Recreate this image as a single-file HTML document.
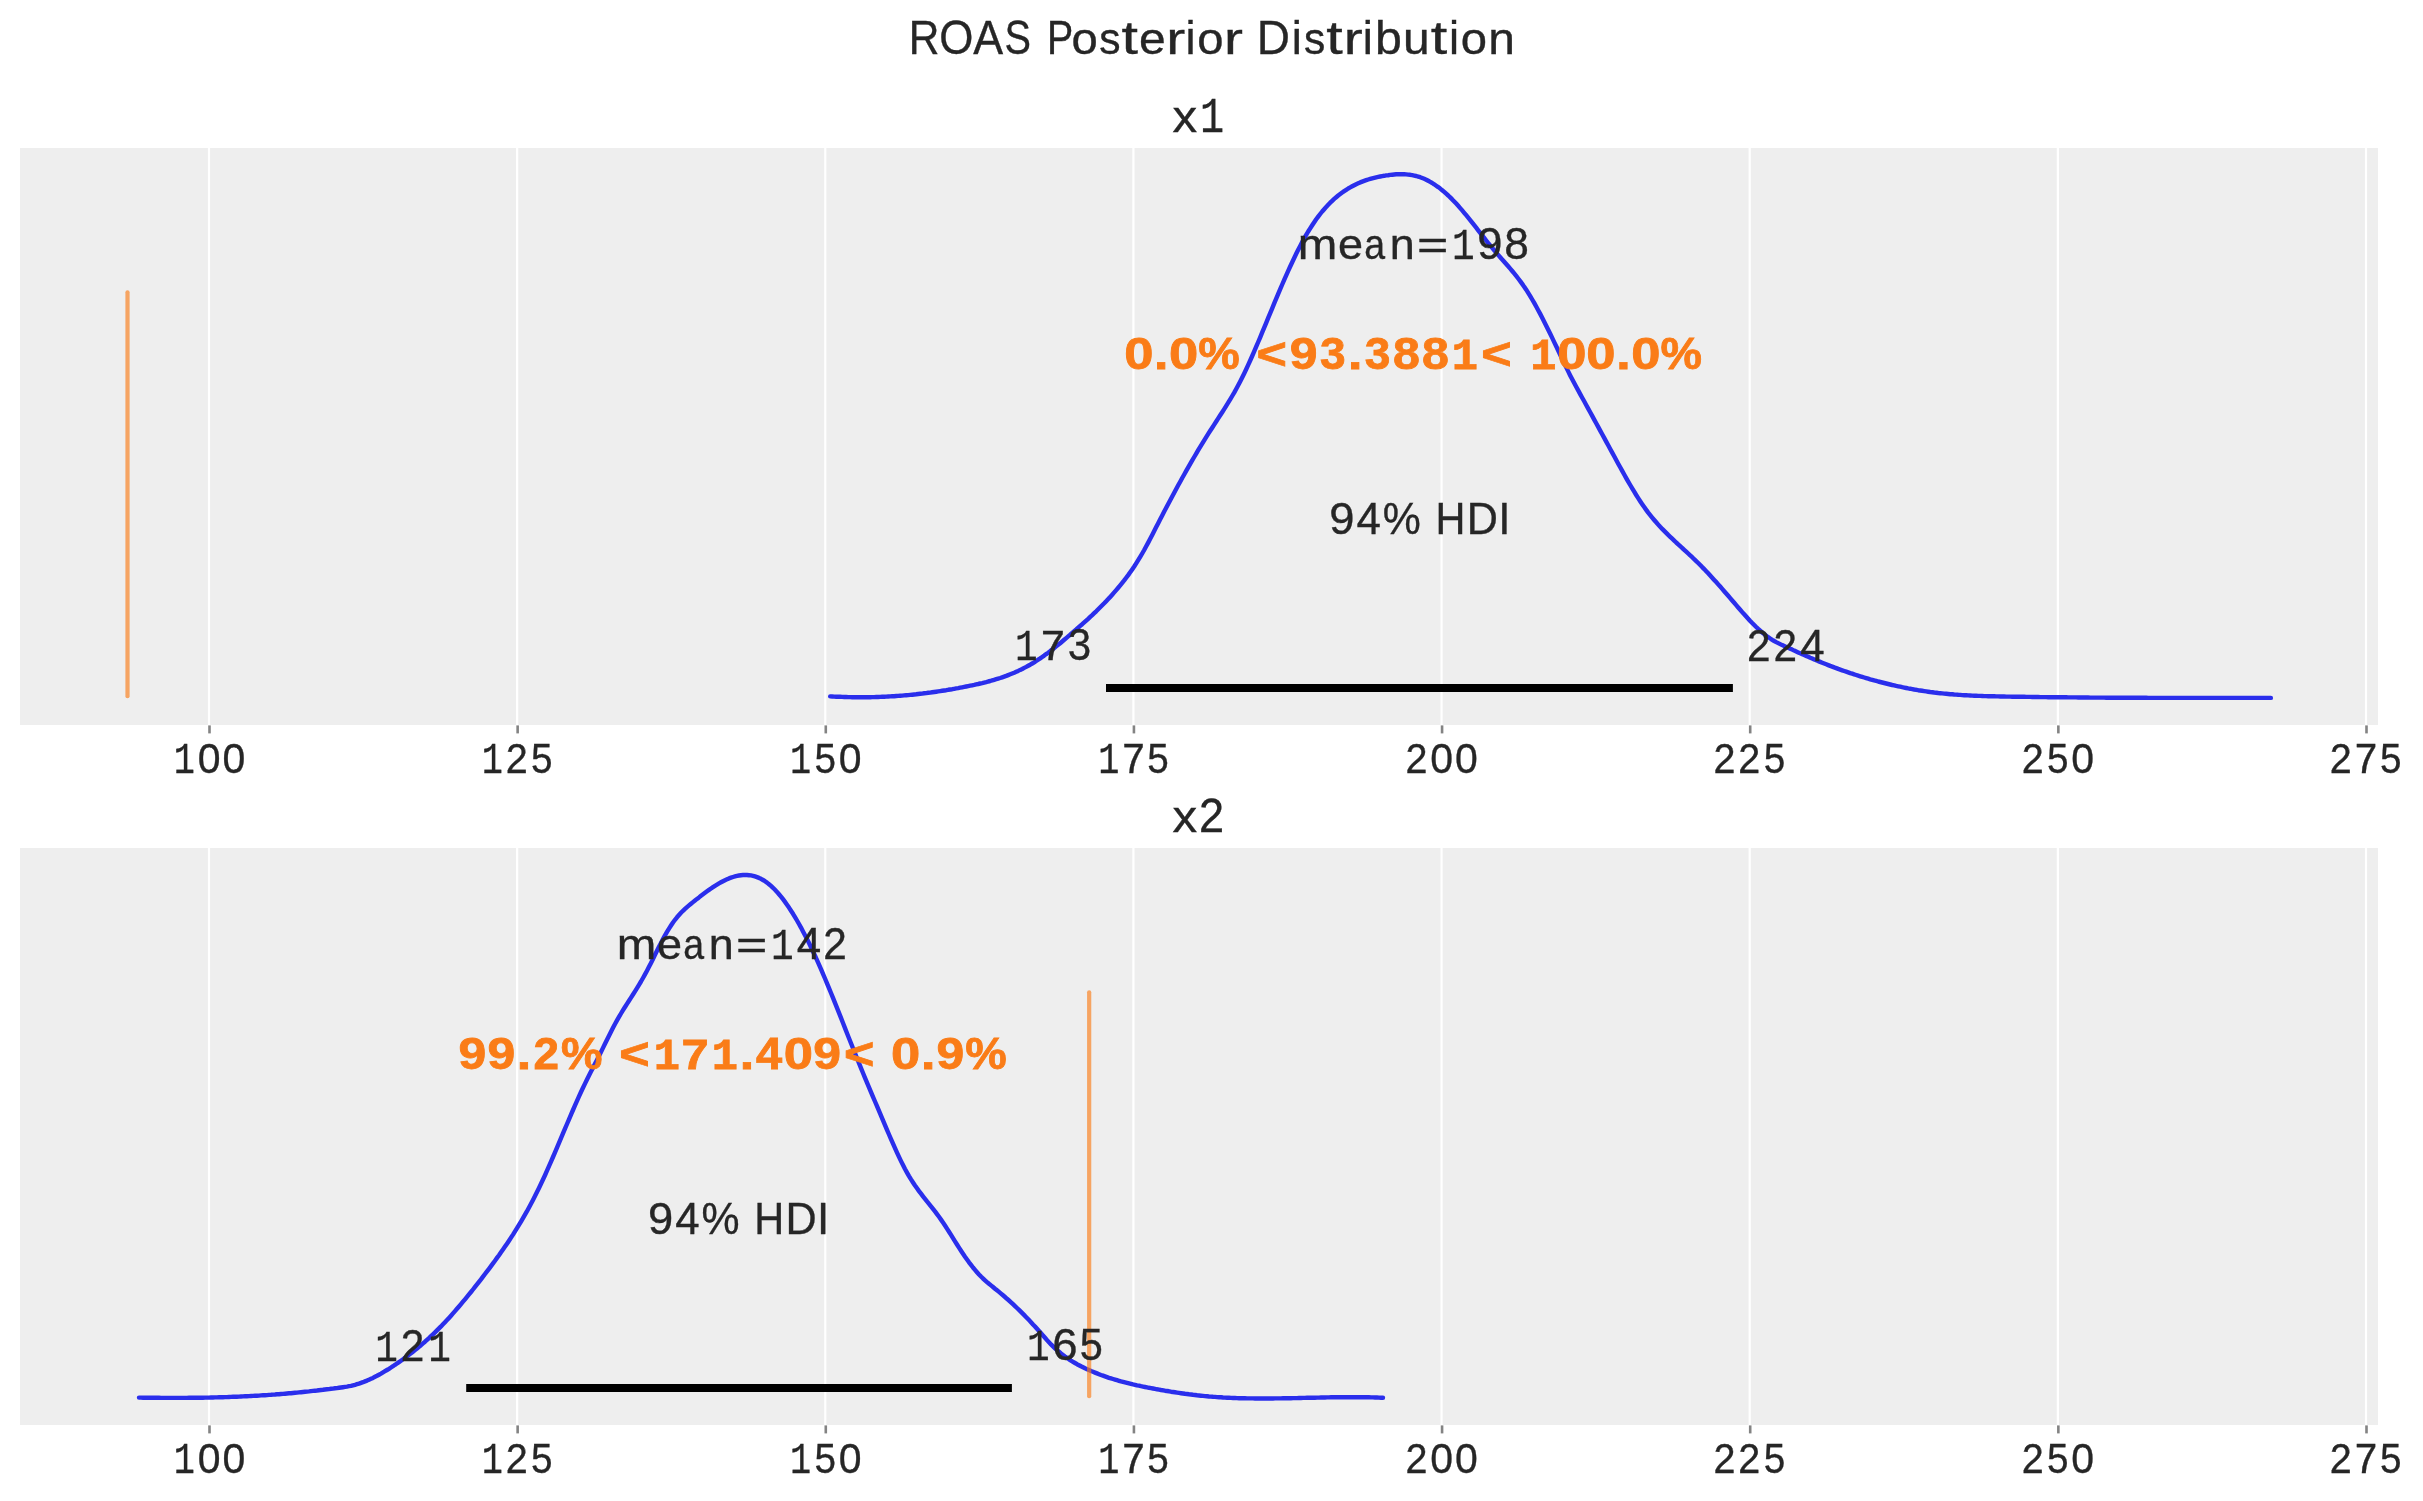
<!DOCTYPE html>
<html><head><meta charset="utf-8"><title>ROAS Posterior Distribution</title>
<style>
html,body{margin:0;padding:0;background:#ffffff;}
body{width:2423px;height:1501px;overflow:hidden;}
svg{display:block;will-change:transform;}
text{font-family:"Liberation Sans", sans-serif;font-kerning:none;white-space:pre;}
</style></head><body>
<svg width="2423" height="1501" viewBox="0 0 2423 1501">
<rect x="0" y="0" width="2423" height="1501" fill="#ffffff"/>
<text x="908.81 939.22 973.27 1004.54 1031.62 1046.88 1071.43 1099.37 1121.59 1139.14 1166.32 1185.49 1197.15 1224.13 1242.14 1256.86 1291.64 1304.06 1326.28 1343.67 1362.83 1374.95 1402.90 1430.70 1448.98 1460.65 1488.22" y="54.00" font-size="47.09" font-weight="normal" fill="#262626" stroke="#262626" stroke-width="0.35"><tspan font-size="48.03" textLength="30.69" lengthAdjust="spacingAndGlyphs">R</tspan><tspan font-size="48.03" textLength="34.17" lengthAdjust="spacingAndGlyphs">O</tspan><tspan font-size="48.03" textLength="29.86" lengthAdjust="spacingAndGlyphs">A</tspan><tspan font-size="48.03" textLength="26.42" lengthAdjust="spacingAndGlyphs">S</tspan> <tspan font-size="48.03" textLength="26.21" lengthAdjust="spacingAndGlyphs">P</tspan><tspan font-size="44.73" textLength="26.27" lengthAdjust="spacingAndGlyphs">o</tspan><tspan font-size="44.73" textLength="21.30" lengthAdjust="spacingAndGlyphs">s</tspan><tspan textLength="16.50" lengthAdjust="spacingAndGlyphs">t</tspan><tspan font-size="44.73" textLength="26.70" lengthAdjust="spacingAndGlyphs">e</tspan><tspan font-size="44.73" textLength="18.96" lengthAdjust="spacingAndGlyphs">r</tspan><tspan textLength="10.09" lengthAdjust="spacingAndGlyphs">i</tspan><tspan font-size="44.73" textLength="26.27" lengthAdjust="spacingAndGlyphs">o</tspan><tspan font-size="44.73" textLength="18.96" lengthAdjust="spacingAndGlyphs">r</tspan> <tspan font-size="48.03" textLength="33.20" lengthAdjust="spacingAndGlyphs">D</tspan><tspan textLength="10.09" lengthAdjust="spacingAndGlyphs">i</tspan><tspan font-size="44.73" textLength="21.30" lengthAdjust="spacingAndGlyphs">s</tspan><tspan textLength="16.50" lengthAdjust="spacingAndGlyphs">t</tspan><tspan font-size="44.73" textLength="18.96" lengthAdjust="spacingAndGlyphs">r</tspan><tspan textLength="10.09" lengthAdjust="spacingAndGlyphs">i</tspan><tspan textLength="26.89" lengthAdjust="spacingAndGlyphs">b</tspan><tspan font-size="44.73" textLength="26.65" lengthAdjust="spacingAndGlyphs">u</tspan><tspan textLength="16.50" lengthAdjust="spacingAndGlyphs">t</tspan><tspan textLength="10.09" lengthAdjust="spacingAndGlyphs">i</tspan><tspan font-size="44.73" textLength="26.27" lengthAdjust="spacingAndGlyphs">o</tspan><tspan font-size="44.73" textLength="26.65" lengthAdjust="spacingAndGlyphs">n</tspan></text>
<rect x="20" y="148" width="2358" height="577" fill="#eeeeee"/>
<line x1="209.00" y1="148" x2="209.00" y2="725" stroke="#ffffff" stroke-width="2.2"/>
<line x1="209.50" y1="725.4" x2="209.50" y2="733.40" stroke="#838383" stroke-width="2.6"/>
<line x1="517.14" y1="148" x2="517.14" y2="725" stroke="#ffffff" stroke-width="2.2"/>
<line x1="517.64" y1="725.4" x2="517.64" y2="733.40" stroke="#838383" stroke-width="2.6"/>
<line x1="825.28" y1="148" x2="825.28" y2="725" stroke="#ffffff" stroke-width="2.2"/>
<line x1="825.78" y1="725.4" x2="825.78" y2="733.40" stroke="#838383" stroke-width="2.6"/>
<line x1="1133.43" y1="148" x2="1133.43" y2="725" stroke="#ffffff" stroke-width="2.2"/>
<line x1="1133.93" y1="725.4" x2="1133.93" y2="733.40" stroke="#838383" stroke-width="2.6"/>
<line x1="1441.57" y1="148" x2="1441.57" y2="725" stroke="#ffffff" stroke-width="2.2"/>
<line x1="1442.07" y1="725.4" x2="1442.07" y2="733.40" stroke="#838383" stroke-width="2.6"/>
<line x1="1749.71" y1="148" x2="1749.71" y2="725" stroke="#ffffff" stroke-width="2.2"/>
<line x1="1750.21" y1="725.4" x2="1750.21" y2="733.40" stroke="#838383" stroke-width="2.6"/>
<line x1="2057.86" y1="148" x2="2057.86" y2="725" stroke="#ffffff" stroke-width="2.2"/>
<line x1="2058.36" y1="725.4" x2="2058.36" y2="733.40" stroke="#838383" stroke-width="2.6"/>
<line x1="2366.00" y1="148" x2="2366.00" y2="725" stroke="#ffffff" stroke-width="2.2"/>
<line x1="2366.50" y1="725.4" x2="2366.50" y2="733.40" stroke="#838383" stroke-width="2.6"/>
<path d="M830.2,696.4 L832.2,696.5 L834.2,696.6 L836.2,696.7 L838.2,696.8 L840.2,696.8 L842.2,696.9 L844.2,697.0 L846.2,697.0 L848.2,697.1 L850.2,697.1 L852.2,697.2 L854.2,697.2 L856.2,697.2 L858.2,697.2 L860.2,697.3 L862.2,697.2 L864.2,697.2 L866.2,697.2 L868.2,697.2 L870.2,697.2 L872.2,697.1 L874.2,697.1 L876.2,697.0 L878.2,697.0 L880.2,696.9 L882.2,696.8 L884.2,696.7 L886.2,696.6 L888.2,696.5 L890.2,696.4 L892.2,696.3 L894.2,696.2 L896.2,696.0 L898.2,695.9 L900.2,695.7 L902.2,695.6 L904.2,695.4 L906.2,695.2 L908.2,695.1 L910.2,694.9 L912.2,694.7 L914.2,694.5 L916.2,694.3 L918.2,694.0 L920.2,693.8 L922.2,693.6 L924.2,693.3 L926.2,693.1 L928.2,692.8 L930.2,692.6 L932.2,692.3 L934.2,692.0 L936.2,691.7 L938.2,691.4 L940.2,691.1 L942.2,690.8 L944.2,690.5 L946.2,690.2 L948.2,689.8 L950.2,689.5 L952.2,689.2 L954.2,688.8 L956.2,688.4 L958.2,688.1 L960.2,687.7 L962.2,687.3 L964.2,686.9 L966.2,686.5 L968.2,686.1 L970.2,685.7 L972.2,685.3 L974.2,684.9 L976.2,684.4 L978.2,684.0 L980.2,683.5 L982.2,683.1 L984.2,682.6 L986.2,682.1 L988.2,681.5 L990.2,681.0 L992.2,680.4 L994.2,679.8 L996.2,679.2 L998.2,678.6 L1000.2,678.0 L1002.2,677.3 L1004.2,676.6 L1006.2,675.9 L1008.2,675.1 L1010.2,674.3 L1012.2,673.5 L1014.2,672.7 L1016.2,671.8 L1018.2,670.9 L1020.2,669.9 L1022.2,669.0 L1024.2,667.9 L1026.2,666.9 L1028.2,665.8 L1030.2,664.7 L1032.2,663.5 L1034.2,662.3 L1036.2,661.0 L1038.2,659.7 L1040.2,658.4 L1042.2,657.0 L1044.2,655.6 L1046.2,654.1 L1048.2,652.7 L1050.2,651.1 L1052.2,649.6 L1054.2,648.0 L1056.2,646.4 L1058.2,644.8 L1060.2,643.2 L1062.2,641.5 L1064.2,639.8 L1066.2,638.1 L1068.2,636.4 L1070.2,634.7 L1072.2,632.9 L1074.2,631.2 L1076.2,629.5 L1078.2,627.7 L1080.2,625.9 L1082.2,624.2 L1084.2,622.4 L1086.2,620.6 L1088.2,618.8 L1090.2,616.9 L1092.2,615.1 L1094.2,613.2 L1096.2,611.3 L1098.2,609.3 L1100.2,607.3 L1102.2,605.3 L1104.2,603.3 L1106.2,601.2 L1108.2,599.1 L1110.2,596.9 L1112.2,594.7 L1114.2,592.4 L1116.2,590.1 L1118.2,587.8 L1120.2,585.4 L1122.2,582.9 L1124.2,580.4 L1126.2,577.7 L1128.2,575.1 L1130.2,572.3 L1132.2,569.4 L1134.2,566.5 L1136.2,563.4 L1138.2,560.2 L1140.2,556.9 L1142.2,553.5 L1144.2,550.0 L1146.2,546.3 L1148.2,542.6 L1150.2,538.8 L1152.2,534.9 L1154.2,531.0 L1156.2,527.1 L1158.2,523.2 L1160.2,519.3 L1162.2,515.5 L1164.2,511.6 L1166.2,507.8 L1168.2,504.0 L1170.2,500.2 L1172.2,496.5 L1174.2,492.7 L1176.2,489.0 L1178.2,485.3 L1180.2,481.7 L1182.2,478.0 L1184.2,474.5 L1186.2,470.9 L1188.2,467.4 L1190.2,463.9 L1192.2,460.4 L1194.2,457.0 L1196.2,453.6 L1198.2,450.2 L1200.2,446.9 L1202.2,443.6 L1204.2,440.3 L1206.2,437.1 L1208.2,433.9 L1210.2,430.8 L1212.2,427.7 L1214.2,424.6 L1216.2,421.5 L1218.2,418.4 L1220.2,415.3 L1222.2,412.2 L1224.2,409.1 L1226.2,405.9 L1228.2,402.7 L1230.2,399.4 L1232.2,396.0 L1234.2,392.6 L1236.2,389.0 L1238.2,385.3 L1240.2,381.5 L1242.2,377.5 L1244.2,373.5 L1246.2,369.3 L1248.2,364.9 L1250.2,360.5 L1252.2,356.0 L1254.2,351.4 L1256.2,346.7 L1258.2,342.0 L1260.2,337.3 L1262.2,332.4 L1264.2,327.6 L1266.2,322.8 L1268.2,317.9 L1270.2,313.1 L1272.2,308.3 L1274.2,303.4 L1276.2,298.7 L1278.2,293.9 L1280.2,289.2 L1282.2,284.5 L1284.2,279.9 L1286.2,275.4 L1288.2,270.9 L1290.2,266.5 L1292.2,262.2 L1294.2,258.0 L1296.2,253.8 L1298.2,249.8 L1300.2,245.9 L1302.2,242.1 L1304.2,238.4 L1306.2,234.9 L1308.2,231.5 L1310.2,228.3 L1312.2,225.2 L1314.2,222.2 L1316.2,219.3 L1318.2,216.6 L1320.2,214.0 L1322.2,211.5 L1324.2,209.2 L1326.2,206.9 L1328.2,204.8 L1330.2,202.7 L1332.2,200.8 L1334.2,198.9 L1336.2,197.2 L1338.2,195.5 L1340.2,194.0 L1342.2,192.5 L1344.2,191.1 L1346.2,189.8 L1348.2,188.5 L1350.2,187.4 L1352.2,186.3 L1354.2,185.2 L1356.2,184.2 L1358.2,183.3 L1360.2,182.4 L1362.2,181.6 L1364.2,180.9 L1366.2,180.2 L1368.2,179.5 L1370.2,178.9 L1372.2,178.3 L1374.2,177.8 L1376.2,177.3 L1378.2,176.9 L1380.2,176.5 L1382.2,176.1 L1384.2,175.8 L1386.2,175.4 L1388.2,175.2 L1390.2,174.9 L1392.2,174.7 L1394.2,174.5 L1396.2,174.3 L1398.2,174.2 L1400.2,174.2 L1402.2,174.2 L1404.2,174.3 L1406.2,174.4 L1408.2,174.6 L1410.2,174.8 L1412.2,175.2 L1414.2,175.6 L1416.2,176.0 L1418.2,176.6 L1420.2,177.2 L1422.2,178.0 L1424.2,178.8 L1426.2,179.7 L1428.2,180.8 L1430.2,181.9 L1432.2,183.0 L1434.2,184.3 L1436.2,185.7 L1438.2,187.1 L1440.2,188.6 L1442.2,190.2 L1444.2,191.9 L1446.2,193.7 L1448.2,195.5 L1450.2,197.4 L1452.2,199.4 L1454.2,201.5 L1456.2,203.6 L1458.2,205.8 L1460.2,208.1 L1462.2,210.4 L1464.2,212.8 L1466.2,215.2 L1468.2,217.6 L1470.2,220.1 L1472.2,222.7 L1474.2,225.2 L1476.2,227.7 L1478.2,230.3 L1480.2,232.9 L1482.2,235.4 L1484.2,237.9 L1486.2,240.5 L1488.2,243.0 L1490.2,245.4 L1492.2,247.9 L1494.2,250.2 L1496.2,252.6 L1498.2,254.9 L1500.2,257.2 L1502.2,259.4 L1504.2,261.7 L1506.2,264.0 L1508.2,266.3 L1510.2,268.6 L1512.2,271.0 L1514.2,273.4 L1516.2,275.9 L1518.2,278.5 L1520.2,281.1 L1522.2,283.9 L1524.2,286.7 L1526.2,289.7 L1528.2,292.9 L1530.2,296.1 L1532.2,299.5 L1534.2,302.9 L1536.2,306.5 L1538.2,310.2 L1540.2,313.9 L1542.2,317.8 L1544.2,321.7 L1546.2,325.7 L1548.2,329.7 L1550.2,333.8 L1552.2,337.9 L1554.2,342.1 L1556.2,346.3 L1558.2,350.5 L1560.2,354.8 L1562.2,359.0 L1564.2,363.2 L1566.2,367.3 L1568.2,371.4 L1570.2,375.4 L1572.2,379.3 L1574.2,383.1 L1576.2,386.8 L1578.2,390.4 L1580.2,394.1 L1582.2,397.7 L1584.2,401.3 L1586.2,405.0 L1588.2,408.6 L1590.2,412.3 L1592.2,415.9 L1594.2,419.6 L1596.2,423.3 L1598.2,426.9 L1600.2,430.6 L1602.2,434.3 L1604.2,437.9 L1606.2,441.6 L1608.2,445.3 L1610.2,449.0 L1612.2,452.6 L1614.2,456.3 L1616.2,460.0 L1618.2,463.7 L1620.2,467.3 L1622.2,470.9 L1624.2,474.5 L1626.2,478.1 L1628.2,481.6 L1630.2,485.0 L1632.2,488.4 L1634.2,491.7 L1636.2,495.0 L1638.2,498.1 L1640.2,501.2 L1642.2,504.2 L1644.2,507.1 L1646.2,509.9 L1648.2,512.6 L1650.2,515.1 L1652.2,517.6 L1654.2,520.0 L1656.2,522.3 L1658.2,524.6 L1660.2,526.8 L1662.2,528.9 L1664.2,530.9 L1666.2,532.9 L1668.2,534.9 L1670.2,536.8 L1672.2,538.7 L1674.2,540.6 L1676.2,542.5 L1678.2,544.3 L1680.2,546.1 L1682.2,548.0 L1684.2,549.8 L1686.2,551.6 L1688.2,553.5 L1690.2,555.4 L1692.2,557.2 L1694.2,559.2 L1696.2,561.1 L1698.2,563.0 L1700.2,565.0 L1702.2,567.1 L1704.2,569.1 L1706.2,571.2 L1708.2,573.3 L1710.2,575.5 L1712.2,577.7 L1714.2,579.9 L1716.2,582.1 L1718.2,584.4 L1720.2,586.6 L1722.2,588.9 L1724.2,591.2 L1726.2,593.5 L1728.2,595.8 L1730.2,598.2 L1732.2,600.5 L1734.2,602.8 L1736.2,605.1 L1738.2,607.5 L1740.2,609.8 L1742.2,612.1 L1744.2,614.3 L1746.2,616.5 L1748.2,618.7 L1750.2,620.9 L1752.2,623.0 L1754.2,625.0 L1756.2,627.0 L1758.2,628.9 L1760.2,630.7 L1762.2,632.5 L1764.2,634.1 L1766.2,635.7 L1768.2,637.2 L1770.2,638.5 L1772.2,639.8 L1774.2,641.0 L1776.2,642.1 L1778.2,643.1 L1780.2,644.1 L1782.2,645.1 L1784.2,646.0 L1786.2,646.9 L1788.2,647.8 L1790.2,648.7 L1792.2,649.6 L1794.2,650.6 L1796.2,651.5 L1798.2,652.4 L1800.2,653.3 L1802.2,654.2 L1804.2,655.0 L1806.2,655.9 L1808.2,656.8 L1810.2,657.7 L1812.2,658.5 L1814.2,659.4 L1816.2,660.2 L1818.2,661.1 L1820.2,661.9 L1822.2,662.7 L1824.2,663.5 L1826.2,664.3 L1828.2,665.1 L1830.2,665.9 L1832.2,666.6 L1834.2,667.4 L1836.2,668.1 L1838.2,668.9 L1840.2,669.6 L1842.2,670.3 L1844.2,671.0 L1846.2,671.7 L1848.2,672.4 L1850.2,673.1 L1852.2,673.7 L1854.2,674.4 L1856.2,675.0 L1858.2,675.7 L1860.2,676.3 L1862.2,676.9 L1864.2,677.5 L1866.2,678.1 L1868.2,678.7 L1870.2,679.3 L1872.2,679.8 L1874.2,680.4 L1876.2,680.9 L1878.2,681.5 L1880.2,682.0 L1882.2,682.5 L1884.2,683.0 L1886.2,683.5 L1888.2,684.0 L1890.2,684.5 L1892.2,685.0 L1894.2,685.4 L1896.2,685.9 L1898.2,686.3 L1900.2,686.7 L1902.2,687.2 L1904.2,687.6 L1906.2,688.0 L1908.2,688.4 L1910.2,688.7 L1912.2,689.1 L1914.2,689.5 L1916.2,689.8 L1918.2,690.2 L1920.2,690.5 L1922.2,690.8 L1924.2,691.1 L1926.2,691.4 L1928.2,691.7 L1930.2,692.0 L1932.2,692.2 L1934.2,692.5 L1936.2,692.7 L1938.2,693.0 L1940.2,693.2 L1942.2,693.4 L1944.2,693.6 L1946.2,693.8 L1948.2,694.0 L1950.2,694.2 L1952.2,694.3 L1954.2,694.5 L1956.2,694.6 L1958.2,694.8 L1960.2,694.9 L1962.2,695.1 L1964.2,695.2 L1966.2,695.3 L1968.2,695.4 L1970.2,695.5 L1972.2,695.6 L1974.2,695.7 L1976.2,695.8 L1978.2,695.9 L1980.2,695.9 L1982.2,696.0 L1984.2,696.1 L1986.2,696.1 L1988.2,696.2 L1990.2,696.2 L1992.2,696.3 L1994.2,696.3 L1996.2,696.4 L1998.2,696.4 L2000.2,696.5 L2002.2,696.5 L2004.2,696.5 L2006.2,696.6 L2008.2,696.6 L2010.2,696.6 L2012.2,696.7 L2014.2,696.7 L2016.2,696.7 L2018.2,696.8 L2020.2,696.8 L2022.2,696.8 L2024.2,696.8 L2026.2,696.9 L2028.2,696.9 L2030.2,696.9 L2032.2,697.0 L2034.2,697.0 L2036.2,697.0 L2038.2,697.0 L2040.2,697.1 L2042.2,697.1 L2044.2,697.1 L2046.2,697.1 L2048.2,697.2 L2050.2,697.2 L2052.2,697.2 L2054.2,697.2 L2056.2,697.2 L2058.2,697.3 L2060.2,697.3 L2062.2,697.3 L2064.2,697.3 L2066.2,697.3 L2068.2,697.4 L2070.2,697.4 L2072.2,697.4 L2074.2,697.4 L2076.2,697.4 L2078.2,697.5 L2080.2,697.5 L2082.2,697.5 L2084.2,697.5 L2086.2,697.5 L2088.2,697.5 L2090.2,697.6 L2092.2,697.6 L2094.2,697.6 L2096.2,697.6 L2098.2,697.6 L2100.2,697.6 L2102.2,697.6 L2104.2,697.6 L2106.2,697.7 L2108.2,697.7 L2110.2,697.7 L2112.2,697.7 L2114.2,697.7 L2116.2,697.7 L2118.2,697.7 L2120.2,697.7 L2122.2,697.7 L2124.2,697.8 L2126.2,697.8 L2128.2,697.8 L2130.2,697.8 L2132.2,697.8 L2134.2,697.8 L2136.2,697.8 L2138.2,697.8 L2140.2,697.8 L2142.2,697.8 L2144.2,697.8 L2146.2,697.8 L2148.2,697.9 L2150.2,697.9 L2152.2,697.9 L2154.2,697.9 L2156.2,697.9 L2158.2,697.9 L2160.2,697.9 L2162.2,697.9 L2164.2,697.9 L2166.2,697.9 L2168.2,697.9 L2170.2,697.9 L2172.2,697.9 L2174.2,697.9 L2176.2,697.9 L2178.2,697.9 L2180.2,697.9 L2182.2,697.9 L2184.2,697.9 L2186.2,697.9 L2188.2,697.9 L2190.2,697.9 L2192.2,697.9 L2194.2,697.9 L2196.2,697.9 L2198.2,697.9 L2200.2,697.9 L2202.2,697.9 L2204.2,697.9 L2206.2,697.9 L2208.2,697.9 L2210.2,697.9 L2212.2,697.9 L2214.2,697.9 L2216.2,697.9 L2218.2,697.9 L2220.2,697.9 L2222.2,697.9 L2224.2,697.9 L2226.2,697.9 L2228.2,697.9 L2230.2,697.9 L2232.2,697.9 L2234.2,697.9 L2236.2,697.9 L2238.2,697.9 L2240.2,697.9 L2242.2,697.9 L2244.2,697.9 L2246.2,697.9 L2248.2,697.9 L2250.2,697.9 L2252.2,697.9 L2254.2,697.9 L2256.2,697.9 L2258.2,697.9 L2260.2,697.9 L2262.2,697.9 L2264.2,697.9 L2266.2,697.9 L2268.2,697.9 L2270.2,697.9 L2270.9,697.9" fill="none" stroke="#2a2eec" stroke-width="4.4" stroke-linecap="round" stroke-linejoin="round"/>
<rect x="1106.00" y="684" width="626.90" height="8" fill="#000000"/>
<line x1="127.50" y1="292.25" x2="127.50" y2="696.15" stroke="#fa7c17" stroke-opacity="0.65" stroke-width="4.2" stroke-linecap="round"/>
<text x="1172.44 1199.99" y="132.00" font-size="47.09" font-weight="normal" fill="#262626" stroke="#262626" stroke-width="0.35"><tspan font-size="44.73" textLength="24.65" lengthAdjust="spacingAndGlyphs">x</tspan><tspan font-size="50.09" font-family="Liberation Mono" textLength="24.14" lengthAdjust="spacingAndGlyphs">1</tspan></text>
<text x="1297.75 1338.10 1364.26 1389.68 1417.10 1452.06 1477.22 1504.13" y="259.00" font-size="44.15" font-weight="normal" fill="#262626" stroke="#262626" stroke-width="0.35"><tspan font-size="42.83" textLength="39.55" lengthAdjust="spacingAndGlyphs">m</tspan><tspan font-size="42.83" textLength="25.03" lengthAdjust="spacingAndGlyphs">e</tspan><tspan font-size="42.83" textLength="20.84" lengthAdjust="spacingAndGlyphs">a</tspan><tspan font-size="42.83" textLength="24.99" lengthAdjust="spacingAndGlyphs">n</tspan><tspan font-size="39.74" textLength="31.33" lengthAdjust="spacingAndGlyphs">=</tspan><tspan font-size="44.94" font-family="Liberation Mono" textLength="22.64" lengthAdjust="spacingAndGlyphs">1</tspan><tspan textLength="25.23" lengthAdjust="spacingAndGlyphs">9</tspan><tspan textLength="24.69" lengthAdjust="spacingAndGlyphs">8</tspan></text>
<text x="1124.15 1153.96 1168.97 1198.23 1239.80 1256.54 1289.65 1319.95 1347.94 1364.77 1393.04 1422.04 1451.78 1481.25 1513.93 1530.19 1557.35 1586.34 1616.15 1631.17 1660.43" y="369.00" font-size="44.15" font-weight="bold" fill="#fa7c17" stroke="#fa7c17" stroke-width="0.8"><tspan textLength="29.24" lengthAdjust="spacingAndGlyphs">0</tspan><tspan textLength="14.42" lengthAdjust="spacingAndGlyphs">.</tspan><tspan textLength="29.24" lengthAdjust="spacingAndGlyphs">0</tspan><tspan textLength="41.48" lengthAdjust="spacingAndGlyphs">%</tspan> <tspan textLength="30.38" lengthAdjust="spacingAndGlyphs">&lt;</tspan><tspan textLength="27.75" lengthAdjust="spacingAndGlyphs">9</tspan><tspan textLength="25.61" lengthAdjust="spacingAndGlyphs">3</tspan><tspan textLength="14.42" lengthAdjust="spacingAndGlyphs">.</tspan><tspan textLength="25.61" lengthAdjust="spacingAndGlyphs">3</tspan><tspan textLength="26.89" lengthAdjust="spacingAndGlyphs">8</tspan><tspan textLength="26.89" lengthAdjust="spacingAndGlyphs">8</tspan><tspan font-size="44.94" font-family="Liberation Mono" textLength="26.23" lengthAdjust="spacingAndGlyphs">1</tspan><tspan textLength="30.38" lengthAdjust="spacingAndGlyphs">&lt;</tspan> <tspan font-size="44.94" font-family="Liberation Mono" textLength="26.23" lengthAdjust="spacingAndGlyphs">1</tspan><tspan textLength="29.24" lengthAdjust="spacingAndGlyphs">0</tspan><tspan textLength="29.24" lengthAdjust="spacingAndGlyphs">0</tspan><tspan textLength="14.42" lengthAdjust="spacingAndGlyphs">.</tspan><tspan textLength="29.24" lengthAdjust="spacingAndGlyphs">0</tspan><tspan textLength="41.48" lengthAdjust="spacingAndGlyphs">%</tspan></text>
<text x="1329.39 1356.43 1382.69 1421.51 1435.45 1466.65 1498.20" y="534.00" font-size="44.15" font-weight="normal" fill="#262626" stroke="#262626" stroke-width="0.35"><tspan textLength="25.23" lengthAdjust="spacingAndGlyphs">9</tspan><tspan textLength="24.43" lengthAdjust="spacingAndGlyphs">4</tspan><tspan textLength="38.05" lengthAdjust="spacingAndGlyphs">%</tspan> <tspan textLength="29.93" lengthAdjust="spacingAndGlyphs">H</tspan><tspan textLength="31.13" lengthAdjust="spacingAndGlyphs">D</tspan><tspan textLength="12.24" lengthAdjust="spacingAndGlyphs">I</tspan></text>
<text x="1015.07 1039.76 1067.81 1092.75" y="660.00" font-size="44.15" font-weight="normal" fill="#262626" stroke="#262626" stroke-width="0.35"><tspan font-size="44.94" font-family="Liberation Mono" textLength="22.64" lengthAdjust="spacingAndGlyphs">1</tspan><tspan font-size="44.94" font-family="Liberation Mono" textLength="26.35" lengthAdjust="spacingAndGlyphs">7</tspan><tspan textLength="23.46" lengthAdjust="spacingAndGlyphs">3</tspan> </text>
<text x="1732.90 1747.07 1773.58 1800.20" y="661.00" font-size="44.15" font-weight="normal" fill="#262626" stroke="#262626" stroke-width="0.35"> <tspan textLength="23.55" lengthAdjust="spacingAndGlyphs">2</tspan><tspan textLength="23.55" lengthAdjust="spacingAndGlyphs">2</tspan><tspan textLength="24.43" lengthAdjust="spacingAndGlyphs">4</tspan></text>
<text x="173.71 197.69 222.43" y="773.00" font-size="41.21" font-weight="normal" fill="#262626" stroke="#262626" stroke-width="0.35"><tspan font-size="43.62" font-family="Liberation Mono" textLength="21.13" lengthAdjust="spacingAndGlyphs">1</tspan><tspan font-size="42.86" textLength="22.80" lengthAdjust="spacingAndGlyphs">0</tspan><tspan font-size="42.86" textLength="22.80" lengthAdjust="spacingAndGlyphs">0</tspan></text>
<text x="481.86 505.73 531.07" y="773.00" font-size="41.21" font-weight="normal" fill="#262626" stroke="#262626" stroke-width="0.35"><tspan font-size="43.62" font-family="Liberation Mono" textLength="21.13" lengthAdjust="spacingAndGlyphs">1</tspan><tspan font-size="42.86" textLength="21.98" lengthAdjust="spacingAndGlyphs">2</tspan><tspan font-size="42.86" textLength="21.52" lengthAdjust="spacingAndGlyphs">5</tspan></text>
<text x="790.00 814.46 838.72" y="773.00" font-size="41.21" font-weight="normal" fill="#262626" stroke="#262626" stroke-width="0.35"><tspan font-size="43.62" font-family="Liberation Mono" textLength="21.13" lengthAdjust="spacingAndGlyphs">1</tspan><tspan font-size="42.86" textLength="21.52" lengthAdjust="spacingAndGlyphs">5</tspan><tspan font-size="42.86" textLength="22.80" lengthAdjust="spacingAndGlyphs">0</tspan></text>
<text x="1098.14 1121.18 1147.35" y="773.00" font-size="41.21" font-weight="normal" fill="#262626" stroke="#262626" stroke-width="0.35"><tspan font-size="43.62" font-family="Liberation Mono" textLength="21.13" lengthAdjust="spacingAndGlyphs">1</tspan><tspan font-size="43.62" font-family="Liberation Mono" textLength="24.59" lengthAdjust="spacingAndGlyphs">7</tspan><tspan font-size="42.86" textLength="21.52" lengthAdjust="spacingAndGlyphs">5</tspan></text>
<text x="1405.42 1430.26 1455.00" y="773.00" font-size="41.21" font-weight="normal" fill="#262626" stroke="#262626" stroke-width="0.35"><tspan font-size="42.86" textLength="21.98" lengthAdjust="spacingAndGlyphs">2</tspan><tspan font-size="42.86" textLength="22.80" lengthAdjust="spacingAndGlyphs">0</tspan><tspan font-size="42.86" textLength="22.80" lengthAdjust="spacingAndGlyphs">0</tspan></text>
<text x="1713.56 1738.30 1763.64" y="773.00" font-size="41.21" font-weight="normal" fill="#262626" stroke="#262626" stroke-width="0.35"><tspan font-size="42.86" textLength="21.98" lengthAdjust="spacingAndGlyphs">2</tspan><tspan font-size="42.86" textLength="21.98" lengthAdjust="spacingAndGlyphs">2</tspan><tspan font-size="42.86" textLength="21.52" lengthAdjust="spacingAndGlyphs">5</tspan></text>
<text x="2021.70 2047.03 2071.29" y="773.00" font-size="41.21" font-weight="normal" fill="#262626" stroke="#262626" stroke-width="0.35"><tspan font-size="42.86" textLength="21.98" lengthAdjust="spacingAndGlyphs">2</tspan><tspan font-size="42.86" textLength="21.52" lengthAdjust="spacingAndGlyphs">5</tspan><tspan font-size="42.86" textLength="22.80" lengthAdjust="spacingAndGlyphs">0</tspan></text>
<text x="2329.84 2353.75 2379.92" y="773.00" font-size="41.21" font-weight="normal" fill="#262626" stroke="#262626" stroke-width="0.35"><tspan font-size="42.86" textLength="21.98" lengthAdjust="spacingAndGlyphs">2</tspan><tspan font-size="43.62" font-family="Liberation Mono" textLength="24.59" lengthAdjust="spacingAndGlyphs">7</tspan><tspan font-size="42.86" textLength="21.52" lengthAdjust="spacingAndGlyphs">5</tspan></text>
<rect x="20" y="848" width="2358" height="577" fill="#eeeeee"/>
<line x1="209.00" y1="848" x2="209.00" y2="1425" stroke="#ffffff" stroke-width="2.2"/>
<line x1="209.50" y1="1425.4" x2="209.50" y2="1433.40" stroke="#838383" stroke-width="2.6"/>
<line x1="517.14" y1="848" x2="517.14" y2="1425" stroke="#ffffff" stroke-width="2.2"/>
<line x1="517.64" y1="1425.4" x2="517.64" y2="1433.40" stroke="#838383" stroke-width="2.6"/>
<line x1="825.28" y1="848" x2="825.28" y2="1425" stroke="#ffffff" stroke-width="2.2"/>
<line x1="825.78" y1="1425.4" x2="825.78" y2="1433.40" stroke="#838383" stroke-width="2.6"/>
<line x1="1133.43" y1="848" x2="1133.43" y2="1425" stroke="#ffffff" stroke-width="2.2"/>
<line x1="1133.93" y1="1425.4" x2="1133.93" y2="1433.40" stroke="#838383" stroke-width="2.6"/>
<line x1="1441.57" y1="848" x2="1441.57" y2="1425" stroke="#ffffff" stroke-width="2.2"/>
<line x1="1442.07" y1="1425.4" x2="1442.07" y2="1433.40" stroke="#838383" stroke-width="2.6"/>
<line x1="1749.71" y1="848" x2="1749.71" y2="1425" stroke="#ffffff" stroke-width="2.2"/>
<line x1="1750.21" y1="1425.4" x2="1750.21" y2="1433.40" stroke="#838383" stroke-width="2.6"/>
<line x1="2057.86" y1="848" x2="2057.86" y2="1425" stroke="#ffffff" stroke-width="2.2"/>
<line x1="2058.36" y1="1425.4" x2="2058.36" y2="1433.40" stroke="#838383" stroke-width="2.6"/>
<line x1="2366.00" y1="848" x2="2366.00" y2="1425" stroke="#ffffff" stroke-width="2.2"/>
<line x1="2366.50" y1="1425.4" x2="2366.50" y2="1433.40" stroke="#838383" stroke-width="2.6"/>
<path d="M139.0,1397.6 L141.0,1397.6 L143.0,1397.7 L145.0,1397.7 L147.0,1397.7 L149.0,1397.7 L151.0,1397.8 L153.0,1397.8 L155.0,1397.8 L157.0,1397.8 L159.0,1397.8 L161.0,1397.9 L163.0,1397.9 L165.0,1397.9 L167.0,1397.9 L169.0,1397.9 L171.0,1397.9 L173.0,1397.9 L175.0,1397.9 L177.0,1397.9 L179.0,1397.9 L181.0,1397.9 L183.0,1397.9 L185.0,1397.9 L187.0,1397.9 L189.0,1397.8 L191.0,1397.8 L193.0,1397.8 L195.0,1397.8 L197.0,1397.8 L199.0,1397.7 L201.0,1397.7 L203.0,1397.7 L205.0,1397.6 L207.0,1397.6 L209.0,1397.6 L211.0,1397.5 L213.0,1397.5 L215.0,1397.4 L217.0,1397.4 L219.0,1397.3 L221.0,1397.3 L223.0,1397.2 L225.0,1397.1 L227.0,1397.1 L229.0,1397.0 L231.0,1396.9 L233.0,1396.8 L235.0,1396.8 L237.0,1396.7 L239.0,1396.6 L241.0,1396.5 L243.0,1396.4 L245.0,1396.3 L247.0,1396.2 L249.0,1396.1 L251.0,1396.0 L253.0,1395.9 L255.0,1395.8 L257.0,1395.7 L259.0,1395.6 L261.0,1395.4 L263.0,1395.3 L265.0,1395.2 L267.0,1395.1 L269.0,1394.9 L271.0,1394.8 L273.0,1394.6 L275.0,1394.5 L277.0,1394.3 L279.0,1394.2 L281.0,1394.0 L283.0,1393.9 L285.0,1393.7 L287.0,1393.5 L289.0,1393.3 L291.0,1393.2 L293.0,1393.0 L295.0,1392.8 L297.0,1392.6 L299.0,1392.4 L301.0,1392.2 L303.0,1392.0 L305.0,1391.8 L307.0,1391.6 L309.0,1391.4 L311.0,1391.1 L313.0,1390.9 L315.0,1390.7 L317.0,1390.5 L319.0,1390.2 L321.0,1390.0 L323.0,1389.8 L325.0,1389.5 L327.0,1389.3 L329.0,1389.1 L331.0,1388.8 L333.0,1388.6 L335.0,1388.3 L337.0,1388.1 L339.0,1387.8 L341.0,1387.5 L343.0,1387.2 L345.0,1386.9 L347.0,1386.6 L349.0,1386.2 L351.0,1385.8 L353.0,1385.3 L355.0,1384.8 L357.0,1384.2 L359.0,1383.6 L361.0,1382.9 L363.0,1382.2 L365.0,1381.4 L367.0,1380.6 L369.0,1379.7 L371.0,1378.8 L373.0,1377.9 L375.0,1376.8 L377.0,1375.8 L379.0,1374.7 L381.0,1373.6 L383.0,1372.4 L385.0,1371.2 L387.0,1370.0 L389.0,1368.8 L391.0,1367.5 L393.0,1366.2 L395.0,1364.8 L397.0,1363.5 L399.0,1362.1 L401.0,1360.7 L403.0,1359.3 L405.0,1357.8 L407.0,1356.3 L409.0,1354.8 L411.0,1353.3 L413.0,1351.7 L415.0,1350.1 L417.0,1348.5 L419.0,1346.8 L421.0,1345.2 L423.0,1343.4 L425.0,1341.7 L427.0,1339.9 L429.0,1338.1 L431.0,1336.2 L433.0,1334.3 L435.0,1332.4 L437.0,1330.4 L439.0,1328.4 L441.0,1326.4 L443.0,1324.3 L445.0,1322.2 L447.0,1320.1 L449.0,1317.9 L451.0,1315.7 L453.0,1313.4 L455.0,1311.1 L457.0,1308.8 L459.0,1306.5 L461.0,1304.1 L463.0,1301.7 L465.0,1299.3 L467.0,1296.9 L469.0,1294.4 L471.0,1292.0 L473.0,1289.5 L475.0,1286.9 L477.0,1284.4 L479.0,1281.8 L481.0,1279.3 L483.0,1276.7 L485.0,1274.0 L487.0,1271.4 L489.0,1268.8 L491.0,1266.1 L493.0,1263.4 L495.0,1260.7 L497.0,1257.9 L499.0,1255.2 L501.0,1252.3 L503.0,1249.5 L505.0,1246.6 L507.0,1243.7 L509.0,1240.7 L511.0,1237.6 L513.0,1234.6 L515.0,1231.4 L517.0,1228.2 L519.0,1224.9 L521.0,1221.6 L523.0,1218.2 L525.0,1214.7 L527.0,1211.2 L529.0,1207.5 L531.0,1203.8 L533.0,1200.0 L535.0,1196.1 L537.0,1192.1 L539.0,1188.0 L541.0,1183.8 L543.0,1179.5 L545.0,1175.2 L547.0,1170.7 L549.0,1166.2 L551.0,1161.6 L553.0,1157.0 L555.0,1152.3 L557.0,1147.6 L559.0,1142.9 L561.0,1138.2 L563.0,1133.4 L565.0,1128.7 L567.0,1124.0 L569.0,1119.3 L571.0,1114.6 L573.0,1110.0 L575.0,1105.4 L577.0,1100.9 L579.0,1096.4 L581.0,1092.0 L583.0,1087.8 L585.0,1083.6 L587.0,1079.5 L589.0,1075.5 L591.0,1071.6 L593.0,1067.7 L595.0,1063.8 L597.0,1059.9 L599.0,1056.0 L601.0,1052.0 L603.0,1047.9 L605.0,1043.8 L607.0,1039.7 L609.0,1035.7 L611.0,1031.7 L613.0,1027.8 L615.0,1024.0 L617.0,1020.4 L619.0,1016.9 L621.0,1013.5 L623.0,1010.2 L625.0,1007.0 L627.0,1003.8 L629.0,1000.7 L631.0,997.6 L633.0,994.5 L635.0,991.3 L637.0,988.1 L639.0,984.8 L641.0,981.5 L643.0,978.0 L645.0,974.4 L647.0,970.7 L649.0,966.8 L651.0,962.9 L653.0,958.9 L655.0,954.8 L657.0,950.8 L659.0,946.8 L661.0,942.9 L663.0,939.1 L665.0,935.4 L667.0,931.9 L669.0,928.6 L671.0,925.5 L673.0,922.5 L675.0,919.8 L677.0,917.3 L679.0,915.0 L681.0,912.8 L683.0,910.8 L685.0,908.9 L687.0,907.1 L689.0,905.4 L691.0,903.7 L693.0,902.1 L695.0,900.5 L697.0,898.9 L699.0,897.4 L701.0,895.8 L703.0,894.3 L705.0,892.8 L707.0,891.3 L709.0,889.9 L711.0,888.5 L713.0,887.1 L715.0,885.8 L717.0,884.6 L719.0,883.4 L721.0,882.3 L723.0,881.2 L725.0,880.2 L727.0,879.3 L729.0,878.4 L731.0,877.7 L733.0,877.0 L735.0,876.4 L737.0,875.9 L739.0,875.5 L741.0,875.2 L743.0,875.0 L745.0,875.0 L747.0,875.0 L749.0,875.2 L751.0,875.4 L753.0,875.8 L755.0,876.4 L757.0,877.1 L759.0,877.9 L761.0,878.8 L763.0,880.0 L765.0,881.2 L767.0,882.6 L769.0,884.2 L771.0,885.9 L773.0,887.8 L775.0,889.8 L777.0,891.9 L779.0,894.2 L781.0,896.6 L783.0,899.2 L785.0,901.9 L787.0,904.7 L789.0,907.6 L791.0,910.7 L793.0,913.8 L795.0,917.1 L797.0,920.5 L799.0,924.0 L801.0,927.6 L803.0,931.4 L805.0,935.2 L807.0,939.1 L809.0,943.1 L811.0,947.3 L813.0,951.5 L815.0,955.8 L817.0,960.1 L819.0,964.6 L821.0,969.2 L823.0,973.8 L825.0,978.5 L827.0,983.3 L829.0,988.1 L831.0,993.0 L833.0,997.9 L835.0,1002.9 L837.0,1007.9 L839.0,1012.9 L841.0,1017.9 L843.0,1023.0 L845.0,1028.1 L847.0,1033.2 L849.0,1038.2 L851.0,1043.3 L853.0,1048.3 L855.0,1053.3 L857.0,1058.3 L859.0,1063.2 L861.0,1068.1 L863.0,1073.0 L865.0,1077.8 L867.0,1082.6 L869.0,1087.3 L871.0,1092.1 L873.0,1096.8 L875.0,1101.5 L877.0,1106.2 L879.0,1110.9 L881.0,1115.6 L883.0,1120.4 L885.0,1125.1 L887.0,1129.8 L889.0,1134.5 L891.0,1139.1 L893.0,1143.7 L895.0,1148.2 L897.0,1152.6 L899.0,1156.9 L901.0,1161.1 L903.0,1165.1 L905.0,1169.0 L907.0,1172.6 L909.0,1176.1 L911.0,1179.4 L913.0,1182.5 L915.0,1185.5 L917.0,1188.3 L919.0,1191.1 L921.0,1193.7 L923.0,1196.3 L925.0,1198.8 L927.0,1201.4 L929.0,1203.8 L931.0,1206.3 L933.0,1208.9 L935.0,1211.4 L937.0,1214.1 L939.0,1216.8 L941.0,1219.6 L943.0,1222.5 L945.0,1225.5 L947.0,1228.6 L949.0,1231.7 L951.0,1234.9 L953.0,1238.1 L955.0,1241.3 L957.0,1244.5 L959.0,1247.6 L961.0,1250.7 L963.0,1253.7 L965.0,1256.7 L967.0,1259.5 L969.0,1262.3 L971.0,1264.9 L973.0,1267.5 L975.0,1269.9 L977.0,1272.2 L979.0,1274.4 L981.0,1276.5 L983.0,1278.5 L985.0,1280.3 L987.0,1282.1 L989.0,1283.8 L991.0,1285.4 L993.0,1287.0 L995.0,1288.7 L997.0,1290.3 L999.0,1291.9 L1001.0,1293.6 L1003.0,1295.3 L1005.0,1297.0 L1007.0,1298.8 L1009.0,1300.5 L1011.0,1302.3 L1013.0,1304.2 L1015.0,1306.1 L1017.0,1308.0 L1019.0,1309.9 L1021.0,1311.9 L1023.0,1313.9 L1025.0,1315.9 L1027.0,1318.0 L1029.0,1320.1 L1031.0,1322.2 L1033.0,1324.4 L1035.0,1326.5 L1037.0,1328.8 L1039.0,1331.0 L1041.0,1333.3 L1043.0,1335.5 L1045.0,1337.8 L1047.0,1340.1 L1049.0,1342.3 L1051.0,1344.4 L1053.0,1346.4 L1055.0,1348.3 L1057.0,1350.1 L1059.0,1351.8 L1061.0,1353.5 L1063.0,1355.0 L1065.0,1356.5 L1067.0,1357.9 L1069.0,1359.3 L1071.0,1360.6 L1073.0,1361.8 L1075.0,1363.0 L1077.0,1364.2 L1079.0,1365.2 L1081.0,1366.3 L1083.0,1367.3 L1085.0,1368.3 L1087.0,1369.2 L1089.0,1370.1 L1091.0,1371.0 L1093.0,1371.8 L1095.0,1372.6 L1097.0,1373.4 L1099.0,1374.2 L1101.0,1375.0 L1103.0,1375.7 L1105.0,1376.4 L1107.0,1377.1 L1109.0,1377.8 L1111.0,1378.4 L1113.0,1379.0 L1115.0,1379.6 L1117.0,1380.2 L1119.0,1380.8 L1121.0,1381.4 L1123.0,1381.9 L1125.0,1382.4 L1127.0,1382.9 L1129.0,1383.4 L1131.0,1383.9 L1133.0,1384.4 L1135.0,1384.8 L1137.0,1385.3 L1139.0,1385.7 L1141.0,1386.2 L1143.0,1386.6 L1145.0,1387.0 L1147.0,1387.4 L1149.0,1387.8 L1151.0,1388.1 L1153.0,1388.5 L1155.0,1388.9 L1157.0,1389.3 L1159.0,1389.6 L1161.0,1390.0 L1163.0,1390.3 L1165.0,1390.7 L1167.0,1391.0 L1169.0,1391.3 L1171.0,1391.7 L1173.0,1392.0 L1175.0,1392.3 L1177.0,1392.6 L1179.0,1392.9 L1181.0,1393.2 L1183.0,1393.5 L1185.0,1393.8 L1187.0,1394.0 L1189.0,1394.3 L1191.0,1394.5 L1193.0,1394.8 L1195.0,1395.0 L1197.0,1395.3 L1199.0,1395.5 L1201.0,1395.7 L1203.0,1395.9 L1205.0,1396.1 L1207.0,1396.3 L1209.0,1396.5 L1211.0,1396.6 L1213.0,1396.8 L1215.0,1396.9 L1217.0,1397.1 L1219.0,1397.2 L1221.0,1397.3 L1223.0,1397.5 L1225.0,1397.6 L1227.0,1397.7 L1229.0,1397.8 L1231.0,1397.9 L1233.0,1398.0 L1235.0,1398.0 L1237.0,1398.1 L1239.0,1398.2 L1241.0,1398.2 L1243.0,1398.3 L1245.0,1398.3 L1247.0,1398.4 L1249.0,1398.4 L1251.0,1398.4 L1253.0,1398.4 L1255.0,1398.5 L1257.0,1398.5 L1259.0,1398.5 L1261.0,1398.5 L1263.0,1398.5 L1265.0,1398.5 L1267.0,1398.5 L1269.0,1398.5 L1271.0,1398.5 L1273.0,1398.5 L1275.0,1398.4 L1277.0,1398.4 L1279.0,1398.4 L1281.0,1398.4 L1283.0,1398.3 L1285.0,1398.3 L1287.0,1398.3 L1289.0,1398.2 L1291.0,1398.2 L1293.0,1398.1 L1295.0,1398.1 L1297.0,1398.1 L1299.0,1398.0 L1301.0,1398.0 L1303.0,1397.9 L1305.0,1397.9 L1307.0,1397.8 L1309.0,1397.8 L1311.0,1397.7 L1313.0,1397.7 L1315.0,1397.7 L1317.0,1397.6 L1319.0,1397.6 L1321.0,1397.5 L1323.0,1397.5 L1325.0,1397.5 L1327.0,1397.4 L1329.0,1397.4 L1331.0,1397.3 L1333.0,1397.3 L1335.0,1397.3 L1337.0,1397.3 L1339.0,1397.2 L1341.0,1397.2 L1343.0,1397.2 L1345.0,1397.2 L1347.0,1397.2 L1349.0,1397.2 L1351.0,1397.2 L1353.0,1397.2 L1355.0,1397.2 L1357.0,1397.2 L1359.0,1397.2 L1361.0,1397.2 L1363.0,1397.2 L1365.0,1397.2 L1367.0,1397.3 L1369.0,1397.3 L1371.0,1397.4 L1373.0,1397.4 L1375.0,1397.5 L1377.0,1397.5 L1379.0,1397.6 L1381.0,1397.7 L1383.0,1397.7" fill="none" stroke="#2a2eec" stroke-width="4.4" stroke-linecap="round" stroke-linejoin="round"/>
<rect x="466.20" y="1384" width="545.70" height="8" fill="#000000"/>
<line x1="1089.17" y1="992.25" x2="1089.17" y2="1396.15" stroke="#fa7c17" stroke-opacity="0.65" stroke-width="4.2" stroke-linecap="round"/>
<text x="1172.44 1199.00" y="832.00" font-size="47.09" font-weight="normal" fill="#262626" stroke="#262626" stroke-width="0.35"><tspan font-size="44.73" textLength="24.65" lengthAdjust="spacingAndGlyphs">x</tspan><tspan font-size="48.03" textLength="25.11" lengthAdjust="spacingAndGlyphs">2</tspan></text>
<text x="616.76 657.11 683.27 708.70 736.11 771.07 796.76 823.17" y="959.00" font-size="44.15" font-weight="normal" fill="#262626" stroke="#262626" stroke-width="0.35"><tspan font-size="42.83" textLength="39.55" lengthAdjust="spacingAndGlyphs">m</tspan><tspan font-size="42.83" textLength="25.03" lengthAdjust="spacingAndGlyphs">e</tspan><tspan font-size="42.83" textLength="20.84" lengthAdjust="spacingAndGlyphs">a</tspan><tspan font-size="42.83" textLength="24.99" lengthAdjust="spacingAndGlyphs">n</tspan><tspan font-size="39.74" textLength="31.33" lengthAdjust="spacingAndGlyphs">=</tspan><tspan font-size="44.94" font-family="Liberation Mono" textLength="22.64" lengthAdjust="spacingAndGlyphs">1</tspan><tspan textLength="24.43" lengthAdjust="spacingAndGlyphs">4</tspan><tspan textLength="23.55" lengthAdjust="spacingAndGlyphs">2</tspan></text>
<text x="458.42 487.42 516.72 533.52 560.99 602.56 619.30 653.74 680.64 711.73 739.69 755.95 783.70 813.21 844.01 876.69 891.11 920.92 936.45 965.20" y="1069.00" font-size="44.15" font-weight="bold" fill="#fa7c17" stroke="#fa7c17" stroke-width="0.8"><tspan textLength="27.75" lengthAdjust="spacingAndGlyphs">9</tspan><tspan textLength="27.75" lengthAdjust="spacingAndGlyphs">9</tspan><tspan textLength="14.42" lengthAdjust="spacingAndGlyphs">.</tspan><tspan textLength="25.50" lengthAdjust="spacingAndGlyphs">2</tspan><tspan textLength="41.48" lengthAdjust="spacingAndGlyphs">%</tspan> <tspan textLength="30.38" lengthAdjust="spacingAndGlyphs">&lt;</tspan><tspan font-size="44.94" font-family="Liberation Mono" textLength="26.23" lengthAdjust="spacingAndGlyphs">1</tspan><tspan font-size="44.94" font-family="Liberation Mono" textLength="29.27" lengthAdjust="spacingAndGlyphs">7</tspan><tspan font-size="44.94" font-family="Liberation Mono" textLength="26.23" lengthAdjust="spacingAndGlyphs">1</tspan><tspan textLength="14.42" lengthAdjust="spacingAndGlyphs">.</tspan><tspan textLength="26.17" lengthAdjust="spacingAndGlyphs">4</tspan><tspan textLength="29.24" lengthAdjust="spacingAndGlyphs">0</tspan><tspan textLength="27.75" lengthAdjust="spacingAndGlyphs">9</tspan><tspan textLength="30.38" lengthAdjust="spacingAndGlyphs">&lt;</tspan> <tspan textLength="29.24" lengthAdjust="spacingAndGlyphs">0</tspan><tspan textLength="14.42" lengthAdjust="spacingAndGlyphs">.</tspan><tspan textLength="27.75" lengthAdjust="spacingAndGlyphs">9</tspan><tspan textLength="41.48" lengthAdjust="spacingAndGlyphs">%</tspan></text>
<text x="648.14 675.18 701.44 740.26 754.20 785.40 816.95" y="1234.00" font-size="44.15" font-weight="normal" fill="#262626" stroke="#262626" stroke-width="0.35"><tspan textLength="25.23" lengthAdjust="spacingAndGlyphs">9</tspan><tspan textLength="24.43" lengthAdjust="spacingAndGlyphs">4</tspan><tspan textLength="38.05" lengthAdjust="spacingAndGlyphs">%</tspan> <tspan textLength="29.93" lengthAdjust="spacingAndGlyphs">H</tspan><tspan textLength="31.13" lengthAdjust="spacingAndGlyphs">D</tspan><tspan textLength="12.24" lengthAdjust="spacingAndGlyphs">I</tspan></text>
<text x="375.27 400.85 428.29 452.95" y="1361.00" font-size="44.15" font-weight="normal" fill="#262626" stroke="#262626" stroke-width="0.35"><tspan font-size="44.94" font-family="Liberation Mono" textLength="22.64" lengthAdjust="spacingAndGlyphs">1</tspan><tspan textLength="23.55" lengthAdjust="spacingAndGlyphs">2</tspan><tspan font-size="44.94" font-family="Liberation Mono" textLength="22.64" lengthAdjust="spacingAndGlyphs">1</tspan> </text>
<text x="1011.90 1027.00 1052.26 1079.72" y="1360.00" font-size="44.15" font-weight="normal" fill="#262626" stroke="#262626" stroke-width="0.35"> <tspan font-size="44.94" font-family="Liberation Mono" textLength="22.64" lengthAdjust="spacingAndGlyphs">1</tspan><tspan textLength="25.28" lengthAdjust="spacingAndGlyphs">6</tspan><tspan textLength="23.06" lengthAdjust="spacingAndGlyphs">5</tspan></text>
<text x="173.71 197.69 222.43" y="1473.00" font-size="41.21" font-weight="normal" fill="#262626" stroke="#262626" stroke-width="0.35"><tspan font-size="43.62" font-family="Liberation Mono" textLength="21.13" lengthAdjust="spacingAndGlyphs">1</tspan><tspan font-size="42.86" textLength="22.80" lengthAdjust="spacingAndGlyphs">0</tspan><tspan font-size="42.86" textLength="22.80" lengthAdjust="spacingAndGlyphs">0</tspan></text>
<text x="481.86 505.73 531.07" y="1473.00" font-size="41.21" font-weight="normal" fill="#262626" stroke="#262626" stroke-width="0.35"><tspan font-size="43.62" font-family="Liberation Mono" textLength="21.13" lengthAdjust="spacingAndGlyphs">1</tspan><tspan font-size="42.86" textLength="21.98" lengthAdjust="spacingAndGlyphs">2</tspan><tspan font-size="42.86" textLength="21.52" lengthAdjust="spacingAndGlyphs">5</tspan></text>
<text x="790.00 814.46 838.72" y="1473.00" font-size="41.21" font-weight="normal" fill="#262626" stroke="#262626" stroke-width="0.35"><tspan font-size="43.62" font-family="Liberation Mono" textLength="21.13" lengthAdjust="spacingAndGlyphs">1</tspan><tspan font-size="42.86" textLength="21.52" lengthAdjust="spacingAndGlyphs">5</tspan><tspan font-size="42.86" textLength="22.80" lengthAdjust="spacingAndGlyphs">0</tspan></text>
<text x="1098.14 1121.18 1147.35" y="1473.00" font-size="41.21" font-weight="normal" fill="#262626" stroke="#262626" stroke-width="0.35"><tspan font-size="43.62" font-family="Liberation Mono" textLength="21.13" lengthAdjust="spacingAndGlyphs">1</tspan><tspan font-size="43.62" font-family="Liberation Mono" textLength="24.59" lengthAdjust="spacingAndGlyphs">7</tspan><tspan font-size="42.86" textLength="21.52" lengthAdjust="spacingAndGlyphs">5</tspan></text>
<text x="1405.42 1430.26 1455.00" y="1473.00" font-size="41.21" font-weight="normal" fill="#262626" stroke="#262626" stroke-width="0.35"><tspan font-size="42.86" textLength="21.98" lengthAdjust="spacingAndGlyphs">2</tspan><tspan font-size="42.86" textLength="22.80" lengthAdjust="spacingAndGlyphs">0</tspan><tspan font-size="42.86" textLength="22.80" lengthAdjust="spacingAndGlyphs">0</tspan></text>
<text x="1713.56 1738.30 1763.64" y="1473.00" font-size="41.21" font-weight="normal" fill="#262626" stroke="#262626" stroke-width="0.35"><tspan font-size="42.86" textLength="21.98" lengthAdjust="spacingAndGlyphs">2</tspan><tspan font-size="42.86" textLength="21.98" lengthAdjust="spacingAndGlyphs">2</tspan><tspan font-size="42.86" textLength="21.52" lengthAdjust="spacingAndGlyphs">5</tspan></text>
<text x="2021.70 2047.03 2071.29" y="1473.00" font-size="41.21" font-weight="normal" fill="#262626" stroke="#262626" stroke-width="0.35"><tspan font-size="42.86" textLength="21.98" lengthAdjust="spacingAndGlyphs">2</tspan><tspan font-size="42.86" textLength="21.52" lengthAdjust="spacingAndGlyphs">5</tspan><tspan font-size="42.86" textLength="22.80" lengthAdjust="spacingAndGlyphs">0</tspan></text>
<text x="2329.84 2353.75 2379.92" y="1473.00" font-size="41.21" font-weight="normal" fill="#262626" stroke="#262626" stroke-width="0.35"><tspan font-size="42.86" textLength="21.98" lengthAdjust="spacingAndGlyphs">2</tspan><tspan font-size="43.62" font-family="Liberation Mono" textLength="24.59" lengthAdjust="spacingAndGlyphs">7</tspan><tspan font-size="42.86" textLength="21.52" lengthAdjust="spacingAndGlyphs">5</tspan></text>
</svg>
</body></html>
